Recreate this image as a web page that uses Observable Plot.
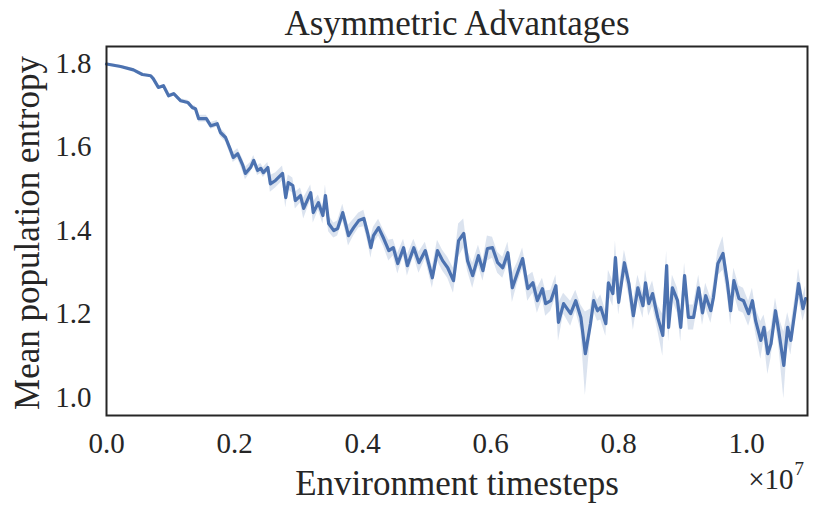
<!DOCTYPE html>
<html>
<head>
<meta charset="utf-8">
<script src="https://cdn.jsdelivr.net/npm/d3@7"></script>
<script src="https://cdn.jsdelivr.net/npm/@observablehq/plot@0.6"></script>
<style>
  html, body { margin: 0; padding: 0; background: #fff; }
</style>
</head>
<body>
<div id="chart"></div>
<script>
// Environment timesteps (×10^7)
const steps = [
0.000,0.022,0.042,0.056,0.069,0.073,0.081,0.089,0.097,0.105,
0.116,0.127,0.134,0.139,0.144,0.156,0.163,0.173,0.178,0.186,
0.194,0.198,0.205,0.213,0.217,0.225,0.230,0.236,0.241,0.245,
0.252,0.256,0.264,0.275,0.280,0.284,0.291,0.295,0.303,0.308,
0.319,0.323,0.331,0.338,0.342,0.347,0.355,0.361,0.369,0.373,
0.378,0.386,0.394,0.402,0.408,0.413,0.417,0.425,0.433,0.441,
0.448,0.455,0.464,0.470,0.480,0.488,0.498,0.509,0.517,0.525,
0.533,0.542,0.550,0.558,0.564,0.572,0.581,0.588,0.595,0.603,
0.611,0.619,0.627,0.634,0.642,0.650,0.658,0.666,0.673,0.681,
0.686,0.694,0.702,0.706,0.714,0.725,0.733,0.741,0.748,0.756,
0.761,0.767,0.772,0.780,0.784,0.791,0.795,0.800,0.809,0.816,
0.823,0.830,0.838,0.842,0.847,0.853,0.861,0.869,0.875,0.878,
0.884,0.892,0.897,0.903,0.909,0.917,0.925,0.931,0.936,0.944,
0.948,0.955,0.963,0.970,0.975,0.980,0.988,0.995,1.003,1.009,
1.014,1.022,1.027,1.033,1.038,1.045,1.050,1.058,1.064,1.069,
1.077,1.081,1.088,1.092
];
// Mean population entropy
const entropy = [
1.799,1.793,1.785,1.774,1.771,1.764,1.743,1.747,1.723,1.728,
1.711,1.707,1.695,1.692,1.668,1.668,1.651,1.656,1.635,1.623,
1.592,1.575,1.584,1.556,1.537,1.551,1.568,1.544,1.549,1.539,
1.551,1.512,1.520,1.537,1.479,1.515,1.508,1.472,1.484,1.453,
1.491,1.443,1.467,1.436,1.484,1.417,1.400,1.405,1.443,1.419,
1.388,1.407,1.424,1.429,1.393,1.359,1.388,1.407,1.381,1.352,
1.359,1.321,1.359,1.316,1.359,1.323,1.352,1.287,1.352,1.328,
1.311,1.280,1.376,1.393,1.328,1.292,1.340,1.304,1.357,1.359,
1.323,1.311,1.347,1.263,1.299,1.333,1.261,1.275,1.232,1.261,
1.225,1.232,1.268,1.180,1.225,1.201,1.232,1.192,1.105,1.177,
1.232,1.208,1.216,1.177,1.275,1.249,1.335,1.228,1.323,1.273,
1.196,1.263,1.220,1.275,1.225,1.249,1.192,1.149,1.316,1.168,
1.263,1.232,1.168,1.292,1.192,1.192,1.263,1.203,1.244,1.208,
1.239,1.321,1.345,1.273,1.208,1.280,1.237,1.232,1.201,1.232,
1.184,1.137,1.168,1.105,1.129,1.208,1.160,1.077,1.168,1.137,
1.225,1.273,1.213,1.237
];
// Half-width of the shaded band around the mean
const spread = [
0.003,0.003,0.003,0.003,0.003,0.003,0.003,0.003,0.003,0.003,
0.005,0.005,0.006,0.006,0.008,0.008,0.008,0.008,0.010,0.010,
0.012,0.012,0.012,0.015,0.015,0.012,0.012,0.012,0.012,0.012,
0.012,0.020,0.018,0.018,0.025,0.018,0.018,0.020,0.018,0.025,
0.018,0.025,0.018,0.020,0.025,0.020,0.018,0.018,0.020,0.020,
0.025,0.020,0.018,0.020,0.020,0.025,0.020,0.020,0.020,0.025,
0.020,0.025,0.020,0.025,0.020,0.025,0.020,0.025,0.025,0.025,
0.025,0.030,0.040,0.035,0.025,0.030,0.025,0.025,0.030,0.025,
0.025,0.025,0.025,0.035,0.025,0.025,0.030,0.025,0.030,0.025,
0.030,0.025,0.025,0.045,0.025,0.030,0.025,0.030,0.100,0.035,
0.025,0.025,0.030,0.030,0.030,0.030,0.040,0.030,0.030,0.030,
0.035,0.030,0.030,0.030,0.030,0.030,0.030,0.050,0.035,0.035,
0.030,0.030,0.035,0.030,0.030,0.030,0.030,0.030,0.030,0.030,
0.030,0.030,0.040,0.030,0.035,0.030,0.030,0.030,0.030,0.030,
0.030,0.045,0.030,0.050,0.035,0.030,0.035,0.080,0.035,0.035,
0.030,0.035,0.030,0.030
];
const xTicks = [0, 0.2, 0.4, 0.6, 0.8, 1.0];
const yTicks = [1.0, 1.2, 1.4, 1.6, 1.8];
const title = "Asymmetric Advantages";
const xLabel = "Environment timesteps";
const yLabel = "Mean population entropy";

const data = steps.map((t, i) => ({
  t, v: entropy[i], lo: entropy[i] - spread[i], hi: entropy[i] + spread[i]
}));

const blue = "#4c72b0";
const ink = "#262626";
const font = "'Liberation Serif', 'DejaVu Serif', serif";

const chart = Plot.plot({
  width: 830,
  height: 516,
  marginTop: 46,
  marginBottom: 101,
  marginLeft: 106,
  marginRight: 23,
  style: { fontFamily: font, fontSize: "29px", color: ink, background: "#fff", overflow: "visible" },
  x: { domain: [0, 1.095] },
  y: { domain: [0.957, 1.841] },
  marks: [
    Plot.areaY(data, { x: "t", y1: "lo", y2: "hi", fill: blue, fillOpacity: 0.2 }),
    Plot.lineY(data, { x: "t", y: "v", stroke: blue, strokeWidth: 3.2, strokeLinejoin: "round" }),
    Plot.frame({ stroke: ink, strokeWidth: 2 }),
    Plot.axisX(xTicks, { tickSize: 0, tickPadding: 17, tickFormat: d => d.toFixed(1), fontSize: 29, label: null }),
    Plot.axisY(yTicks, { tickSize: 0, tickPadding: 15, tickFormat: d => d.toFixed(1), fontSize: 29, label: null }),
    Plot.text([title], { text: d => d, frameAnchor: "top", textAnchor: "middle", lineAnchor: "middle", dy: -23, fontSize: 35, fill: ink }),
    Plot.text([xLabel], { text: d => d, frameAnchor: "bottom", textAnchor: "middle", lineAnchor: "middle", dy: 68, fontSize: 35, fill: ink }),
    Plot.text([yLabel], { text: d => d, frameAnchor: "left", textAnchor: "middle", lineAnchor: "middle", dx: -79, dy: 2, rotate: -90, fontSize: 35, fill: ink }),
    Plot.text(["×10"], { text: d => d, frameAnchor: "bottom-right", textAnchor: "end", lineAnchor: "middle", dx: -14, dy: 64, fontSize: 29, fill: ink }),
    Plot.text(["7"], { text: d => d, frameAnchor: "bottom-right", textAnchor: "start", lineAnchor: "middle", dx: -13, dy: 53, fontSize: 19, fill: ink })
  ]
});
document.getElementById("chart").appendChild(chart);
</script>
</body>
</html>
